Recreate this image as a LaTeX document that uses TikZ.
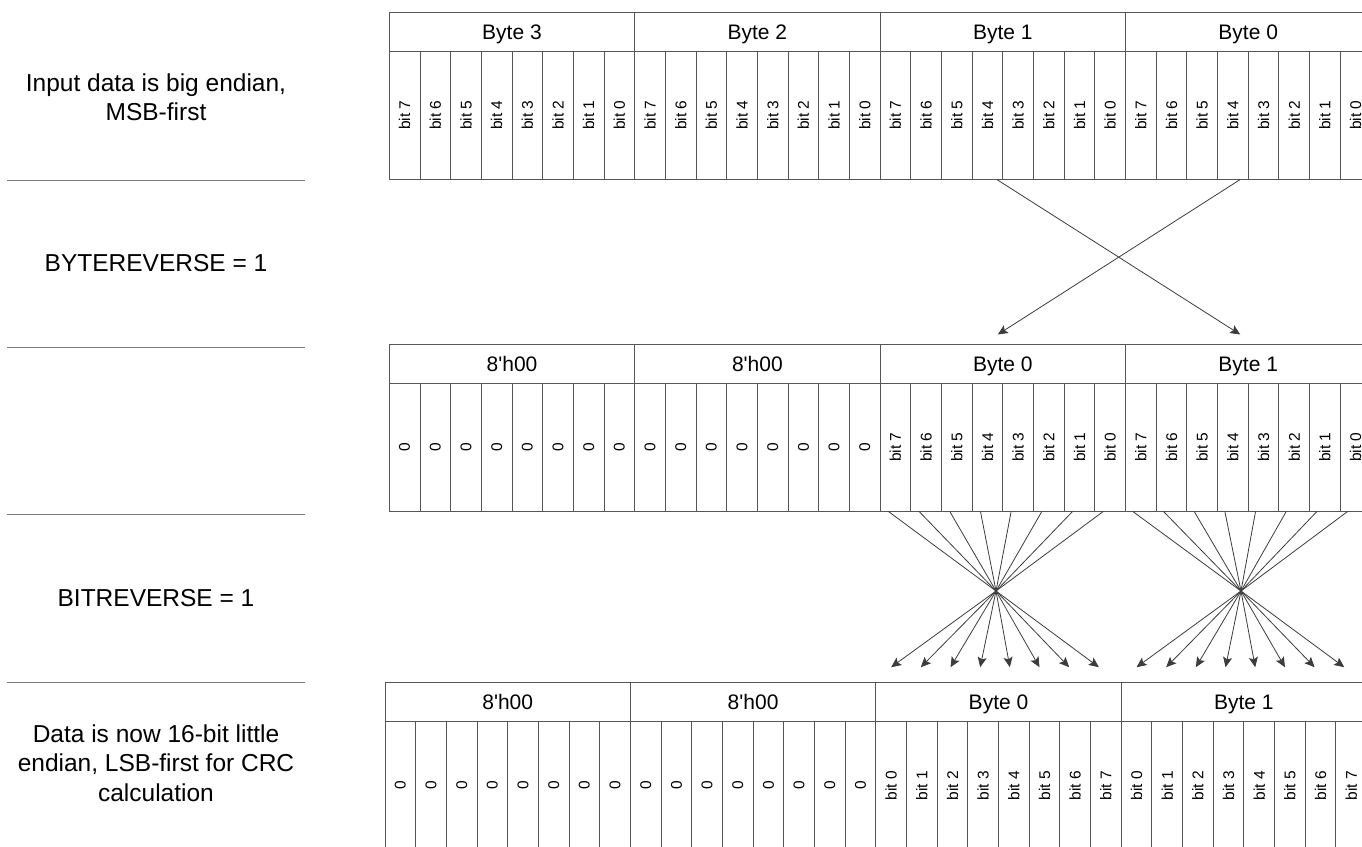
\documentclass[tikz,border=0pt]{standalone}
\usepackage{fontspec}
\setmainfont{Liberation Sans}
\usepackage{graphicx}
\usepackage{tikz}
\usetikzlibrary{arrows.meta}
\definecolor{boxline}{RGB}{85,85,85}
\definecolor{ruleline}{RGB}{125,125,125}
\definecolor{arrline}{RGB}{60,60,60}
\newcommand\bitsize{\fontsize{15.5}{18}\selectfont}
\newcommand\bytesize{\fontsize{21}{24}\selectfont}
\newcommand\sidesize{\fontsize{24.5}{29.5}\selectfont}
\tikzset{
  bytebox/.style={draw=boxline,line width=0.9pt,minimum width=245.4pt,minimum height=38.5pt,inner sep=0pt,outer sep=0pt,anchor=north west,font=\bytesize,text height=15pt,text depth=0pt},
  bitbox/.style={draw=boxline,line width=0.9pt,minimum width=30.675pt,minimum height=128.5pt,inner sep=0pt,outer sep=0pt,anchor=north west,font=\bitsize},
  sidelabel/.style={align=center,font=\sidesize},
  divline/.style={draw=ruleline,line width=0.9pt},
  arr/.style={draw=arrline,line width=0.8pt,-{Stealth[length=10pt,width=9pt,inset=2pt]}}
}

\begin{document}
\begin{tikzpicture}[x=1pt,y=-1pt]
        \useasboundingbox (0,0) rectangle (1362,846);
        \node[sidelabel] (lin) at (156,97) {Input data is big endian,\\MSB-first};
        \node[sidelabel] (lbyte) at (156,263.5) {BYTEREVERSE = 1};
        \node[sidelabel] (lbit) at (156,598) {BITREVERSE = 1};
        \node[sidelabel] (lout) at (156,763) {Data is now 16-bit little\\endian, LSB-first for CRC\\calculation};
        \foreach \y in {180,347,514.5,682}
            \draw[divline] (7,\y) -- (305,\y);
        \foreach \hd [count=\b from 0] in {Byte 3,Byte 2,Byte 1,Byte 0}
            \node[bytebox] (ah\b) at (389.3+245.4*\b,12.5) {\hd};
        \foreach \b in {0,...,3}
            \foreach \k in {0,...,7} {
                \pgfmathtruncatemacro\cellno{8*\b+\k+1}
                \pgfmathtruncatemacro\bitno{7-\k}
                \node[bitbox] (ac\cellno) at (389.3+245.4*\b+30.675*\k,51) {\rotatebox{90}{bit \bitno}};
            }
        \foreach \hd [count=\b from 0] in {8\textquotesingle h00,8\textquotesingle h00,Byte 0,Byte 1}
            \node[bytebox] (bh\b) at (389.3+245.4*\b,344.5) {\hd};
        \foreach \b in {0,...,3}
            \foreach \k in {0,...,7} {
                \pgfmathtruncatemacro\cellno{8*\b+\k+1}
                \pgfmathtruncatemacro\bitno{7-\k}
                \ifnum\b<2 \def\lbl{0}\else\edef\lbl{bit \bitno}\fi
                \node[bitbox] (bc\cellno) at (389.3+245.4*\b+30.675*\k,383) {\rotatebox{90}{\lbl}};
            }
        \foreach \hd [count=\b from 0] in {8\textquotesingle h00,8\textquotesingle h00,Byte 0,Byte 1}
            \node[bytebox] (ch\b) at (385+245.4*\b,682.7) {\hd};
        \foreach \b in {0,...,3}
            \foreach \k in {0,...,7} {
                \pgfmathtruncatemacro\cellno{8*\b+\k+1}
                \ifnum\b<2 \def\lbl{0}\else\edef\lbl{bit \k}\fi
                \node[bitbox] (cc\cellno) at (385+245.4*\b+30.675*\k,721.2) {\rotatebox{90}{\lbl}};
            }
        \draw[arr] ([xshift=-6pt]ac20.south east) -- ([xshift=-8pt,yshift=10pt]bh3.north);
        \draw[arr] ([xshift=-8pt]ac28.south east) -- ([xshift=-5pt,yshift=10pt]bh2.north);
        \coordinate (fx2) at (996,591);
        \coordinate (fx3) at (1241,591);
        \foreach \k in {0,...,7} {
            \pgfmathtruncatemacro\src{17+\k}
            \pgfmathtruncatemacro\dst{24-\k}
            \pgfmathsetmacro\dx{\k-7}
            \draw[arr] ([xshift=-7pt]bc\src.south) -- (fx2) -- ([xshift=\dx pt,yshift=54pt]cc\dst.north);
            \pgfmathtruncatemacro\src{25+\k}
            \pgfmathtruncatemacro\dst{32-\k}
            \draw[arr] ([xshift=-8pt]bc\src.south) -- (fx3) -- ([xshift=\dx pt,yshift=54pt]cc\dst.north);
        }
\end{tikzpicture}
\end{document}
